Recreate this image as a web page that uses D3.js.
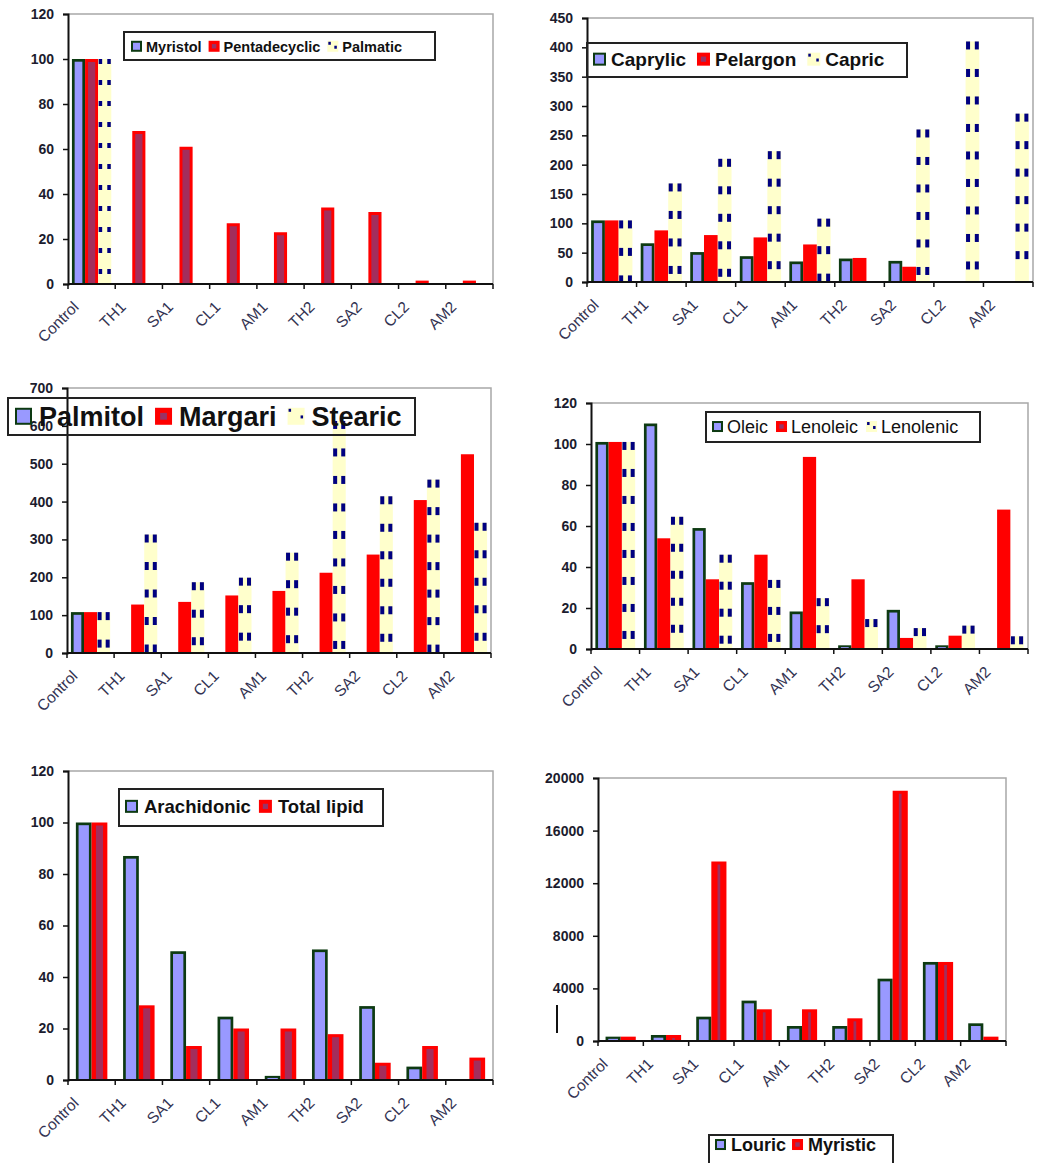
<!DOCTYPE html>
<html><head><meta charset="utf-8">
<script src="https://cdn.jsdelivr.net/npm/d3@7"></script>
<style>body{margin:0;background:#fff}svg{display:block}text{font-family:Arial,'Liberation Sans',sans-serif}</style>
</head><body>
<svg id="c" width="1037" height="1163"></svg>
<script>
// ---------- data ----------
const categories = ["Control","TH1","SA1","CL1","AM1","TH2","SA2","CL2","AM2"];

const names1 = ["Myristol","Pentadecyclic","Palmatic"];
const myristol      = [100,0,0,0,0,0,0,0,0];
const pentadecyclic = [100,68,61,27,23,34,32,1.5,1.5];
const palmatic      = [100,0,0,0,0,0,0,0,0];
const ticks1 = [0,20,40,60,80,100,120];

const names2 = ["Caprylic","Pelargon","Capric"];
const caprylic = [105,66,51,44,35,40,36,0,0];
const pelargon = [105,88,80,76,64,41,26,0,0];
const capric   = [105,168,210,223,108,0,260,410,287];
const ticks2 = [0,50,100,150,200,250,300,350,400,450];

const names3 = ["Palmitol","Margari","Stearic"];
const palmitol = [108,0,0,0,0,0,0,0,0];
const margari  = [108,128,135,152,164,212,260,404,525];
const stearic  = [108,313,187,199,265,613,414,458,344];
const ticks3 = [0,100,200,300,400,500,600,700];

const names4 = ["Oleic","Lenoleic","Lenolenic"];
const oleic     = [101,110,59,32.6,18.3,1.8,19.1,1.8,0];
const lenoleic  = [101,54,34,46,93.7,34,5.4,6.5,68];
const lenolenic = [101,64.5,46,33.7,24.8,14.6,10.2,11.4,6.2];
const ticks4 = [0,20,40,60,80,100,120];

const names5 = ["Arachidonic","Total lipid"];
const arachidonic = [100,87,50,24.6,1.6,50.7,28.7,5.2,0];
const totalLipid  = [100,29,13.2,20,20,17.8,6.7,13.2,8.7];
const ticks5 = [0,20,40,60,80,100,120];

const names6 = ["Louric","Myristic"];
const louric   = [330,457,1850,3070,1140,1140,4740,6010,1345];
const myristic = [330,457,13650,2410,2410,1725,19030,6010,330];
const ticks6 = [0,4000,8000,12000,16000,20000];

// ---------- layout / style ----------
const panels = [
  {names:names1, series:[myristol,pentadecyclic,palmatic], ticks:ticks1,
   area:{l:68,t:14,r:493,b:284}, pad:0.3, redInner:0.55, dash:{w:3.5,h:5,s:21},
   legend:{x:124,y:32,w:311,h:28,x0:131,font:14.5,bold:true,sw:11,gap:4,itemGap:7,base:51.5}},
  {names:names2, series:[caprylic,pelargon,capric], ticks:ticks2,
   area:{l:587,t:18,r:1033,b:282}, pad:0.3, redInner:0, dash:{w:4,h:8,s:27.5},
   legend:{x:587,y:43,w:320,h:34,x0:593,font:19,bold:true,sw:13,gap:5,itemGap:11,base:66}},
  {names:names3, series:[palmitol,margari,stearic], ticks:ticks3,
   area:{l:67,t:388,r:491,b:653}, pad:0.3, redInner:0, dash:{w:4,h:8,s:27.5},
   legend:{x:8,y:398,w:407,h:37,x0:15,font:27,bold:true,sw:17,gap:7,itemGap:11,base:426}},
  {names:names4, series:[oleic,lenoleic,lenolenic], ticks:ticks4,
   area:{l:591,t:403,r:1028,b:649}, pad:0.33, redInner:0, dash:{w:4,h:8,s:27},
   legend:{x:706,y:412,w:274,h:30,x0:712,font:18,bold:false,sw:11,gap:4,itemGap:8,base:433}},
  {names:names5, series:[arachidonic,totalLipid], ticks:ticks5,
   area:{l:68,t:771,r:493,b:1080}, pad:0.5, redInner:0.45, dash:{w:3.5,h:6,s:24},
   legend:{x:119,y:789,w:264,h:37,x0:125,font:18.5,bold:true,sw:13,gap:6,itemGap:8,base:813}},
  {names:names6, series:[louric,myristic], ticks:ticks6,
   area:{l:598,t:778,r:1006,b:1041}, pad:0.5, redInner:0.18, dash:{w:3.5,h:6,s:24},
   legend:{x:709,y:1135,w:184,h:40,x0:715,font:18,bold:true,sw:11,gap:5,itemGap:6,base:1151}}
];

const BLUE="#9999FF", GREEN="#0d3a12", RED="#FF0000", PURPLE="#993366", YEL="#FFFFCC", NAVY="#000080";
const svg = d3.select("#c");

function drawBar(g, kind, x, y, w, h, P) {
  if (h <= 0) return;
  if (kind === 0) {
    const sw = 2.7;
    g.append("rect").attr("x", x).attr("y", y).attr("width", w).attr("height", h).attr("fill", GREEN);
    g.append("rect").attr("x", x+sw).attr("y", y+Math.min(sw,h/2)).attr("width", Math.max(0,w-2*sw))
      .attr("height", Math.max(0,h-sw)).attr("fill", BLUE);
  } else if (kind === 1) {
    g.append("rect").attr("x", x).attr("y", y).attr("width", w).attr("height", h).attr("fill", RED);
    if (P.redInner > 0 && h > 5) {
      const iw = w*P.redInner;
      g.append("rect").attr("x", x+(w-iw)/2).attr("y", y+3).attr("width", iw).attr("height", h-3)
        .attr("fill", PURPLE).attr("opacity", 0.9);
    }
  } else {
    g.append("rect").attr("x", x).attr("y", y).attr("width", w).attr("height", h).attr("fill", YEL);
    const d = P.dash;
    const ys = d3.range(y, y + h - d.h*0.5, d.s);
    g.selectAll(null).data(ys).join("rect").attr("x", x+0.5).attr("y", v=>v)
      .attr("width", d.w).attr("height", v=>Math.min(d.h, y+h-v)).attr("fill", NAVY);
    g.selectAll(null).data(ys).join("rect").attr("x", x+w-d.w-0.5).attr("y", v=>v)
      .attr("width", d.w).attr("height", v=>Math.min(d.h, y+h-v)).attr("fill", NAVY);
  }
}

function drawSwatch(g, kind, x, y, s) {
  if (kind === 0) {
    g.append("rect").attr("x", x+1).attr("y", y+1).attr("width", s-2).attr("height", s-2)
      .attr("fill", BLUE).attr("stroke", GREEN).attr("stroke-width", 2);
  } else if (kind === 1) {
    g.append("rect").attr("x", x).attr("y", y).attr("width", s).attr("height", s).attr("fill", RED);
    g.append("rect").attr("x", x+s*0.3).attr("y", y+s*0.3).attr("width", s*0.4).attr("height", s*0.4).attr("fill", PURPLE);
  } else {
    g.append("rect").attr("x", x).attr("y", y).attr("width", s).attr("height", s).attr("fill", YEL);
    g.append("rect").attr("x", x+1).attr("y", y+1).attr("width", 2.5).attr("height", 3).attr("fill", NAVY);
    g.append("rect").attr("x", x+s-4).attr("y", y+s*0.45).attr("width", 2.5).attr("height", 3).attr("fill", NAVY);
  }
}

panels.forEach(P => {
  const A = P.area;
  const g = svg.append("g");
  const y = d3.scaleLinear().domain([0, d3.max(P.ticks)]).range([A.b, A.t]);
  const x0 = d3.scaleBand().domain(categories).range([A.l, A.r]).padding(0);
  const x1 = d3.scaleBand().domain(P.names).range([0, x0.bandwidth()]).paddingInner(0).paddingOuter(P.pad);

  // plot frame (top & right)
  g.append("path").attr("d", `M${A.l},${A.t}H${A.r}V${A.b}`).attr("fill","none")
    .attr("stroke","#a8a8a8").attr("stroke-width",1.5);

  // bars
  P.series.forEach((vals, j) => {
    vals.forEach((v, i) => {
      const bx = x0(categories[i]) + x1(P.names[j]);
      const by = y(v);
      drawBar(g, j, bx, by, x1.bandwidth(), y(0) - by, P);
    });
  });

  // y axis
  const ya = g.append("g").attr("transform", `translate(${A.l},0)`)
    .call(d3.axisLeft(y).tickValues(P.ticks).tickSize(5).tickPadding(9).tickFormat(d3.format("d")));
  ya.select(".domain").attr("stroke","#111").attr("stroke-width",2);
  ya.selectAll(".tick line").attr("stroke","#111").attr("stroke-width",1.5);
  ya.selectAll(".tick text").attr("font-size",14).attr("font-weight","bold").attr("fill","#1c1c2e")
    .style("font-family","Arial,'Liberation Sans',sans-serif");

  // x axis
  g.append("line").attr("x1", A.l).attr("x2", A.r).attr("y1", y(0)).attr("y2", y(0))
    .attr("stroke","#111").attr("stroke-width",2);
  const bounds = categories.map(c => x0(c)).concat([A.r]);
  g.selectAll(null).data(bounds).join("line").attr("x1", d=>d).attr("x2", d=>d)
    .attr("y1", y(0)).attr("y2", y(0)+5).attr("stroke","#111").attr("stroke-width",1.5);
  g.selectAll(null).data(categories).join("text")
    .attr("transform", c => `translate(${x0(c)+x0.bandwidth()/2-12},${y(0)+24}) rotate(-45)`)
    .attr("text-anchor","end").attr("font-size",15.5).attr("fill","#333352").text(c=>c);

  // legend
  const L = P.legend;
  const lg = svg.append("g");
  lg.append("rect").attr("x", L.x).attr("y", L.y).attr("width", L.w).attr("height", L.h)
    .attr("fill","none").attr("stroke","#222").attr("stroke-width",2);
  let cx = L.x0;
  P.names.forEach((n, j) => {
    drawSwatch(lg, j, cx, L.base - 0.36*L.font - L.sw/2, L.sw);
    const t = lg.append("text").attr("x", cx + L.sw + L.gap).attr("y", L.base)
      .attr("font-size", L.font).attr("font-weight", L.bold ? "bold" : "normal").attr("fill","#111").text(n);
    cx = cx + L.sw + L.gap + t.node().getComputedTextLength() + L.itemGap;
  });
});

// stray mark in lower-right panel
svg.append("line").attr("x1",557).attr("x2",557).attr("y1",1005).attr("y2",1033)
  .attr("stroke","#111").attr("stroke-width",2);
</script>
</body></html>
